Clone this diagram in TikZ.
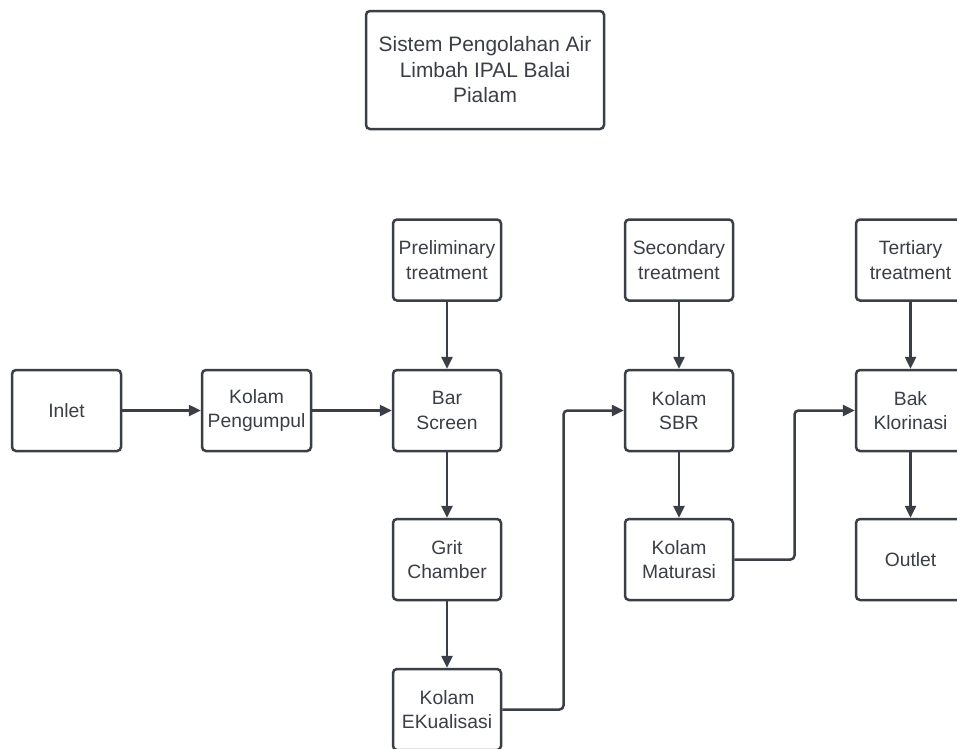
\documentclass[tikz,border=0pt]{standalone}
\usepackage{fontspec}
\setmainfont{Liberation Sans}
\usetikzlibrary{arrows.meta}
\definecolor{ln}{HTML}{3A3F47}
\definecolor{tx}{HTML}{3A3F47}
\tikzset{
  box/.style={draw=ln, line width=2.5pt, rounded corners=4pt, fill=white,
    minimum width=108pt, minimum height=81pt, inner sep=0pt, align=center,
    text=tx, font=\fontsize{19.3}{24.5}\selectfont},
  arr/.style={draw=ln, line width=2.5pt, rounded corners=4pt,
    -{Triangle[length=12pt,width=11pt]}}
}
\begin{document}
\begin{tikzpicture}[x=1pt,y=-1pt]
\useasboundingbox (0,0) rectangle (957,748);
\clip (0,0) rectangle (957,748);
\fill[white] (0,0) rectangle (957,748);
\node[box, minimum width=238pt, minimum height=118pt, font=\fontsize{20.9}{25.5}\selectfont] (title) at (485,70) {Sistem Pengolahan Air\\Limbah IPAL Balai\\Pialam};
\node[box, minimum width=109pt] (inlet) at (66.5,410.5) {Inlet};
\node[box, minimum width=109pt] (pengumpul) at (256.5,410.5) {Kolam\\Pengumpul};
\node[box] (prelim) at (447,260) {Preliminary\\treatment};
\node[box] (bar) at (447,410.5) {Bar\\Screen};
\node[box] (grit) at (447,559.5) {Grit\\Chamber};
\node[box] (ekual) at (447,709.5) {Kolam\\EKualisasi};
\node[box] (second) at (679,260) {Secondary\\treatment};
\node[box] (sbr) at (679,410.5) {Kolam\\SBR};
\node[box] (matur) at (679,559.5) {Kolam\\Maturasi};
\node[box, minimum width=109pt] (tert) at (910.5,260) {Tertiary\\treatment};
\node[box, minimum width=109pt] (klor) at (910.5,410.5) {Bak\\Klorinasi};
\node[box, minimum width=109pt] (outlet) at (910.5,559.5) {Outlet};
\coordinate (m1) at (563.5,0);
\coordinate (m2) at (794.5,0);
\draw[arr] (inlet.east) -- (pengumpul.west);
\draw[arr] (pengumpul.east) -- (bar.west);
\draw[arr] (prelim.south) -- (bar.north);
\draw[arr] (bar.south) -- (grit.north);
\draw[arr] (grit.south) -- (ekual.north);
\draw[arr] (ekual.east) -- (ekual.east -| m1) -- (sbr.west -| m1) -- (sbr.west);
\draw[arr] (second.south) -- (sbr.north);
\draw[arr] (sbr.south) -- (matur.north);
\draw[arr] (matur.east) -- (matur.east -| m2) -- (klor.west -| m2) -- (klor.west);
\draw[arr] (tert.south) -- (klor.north);
\draw[arr] (klor.south) -- (outlet.north);
\end{tikzpicture}
\end{document}
